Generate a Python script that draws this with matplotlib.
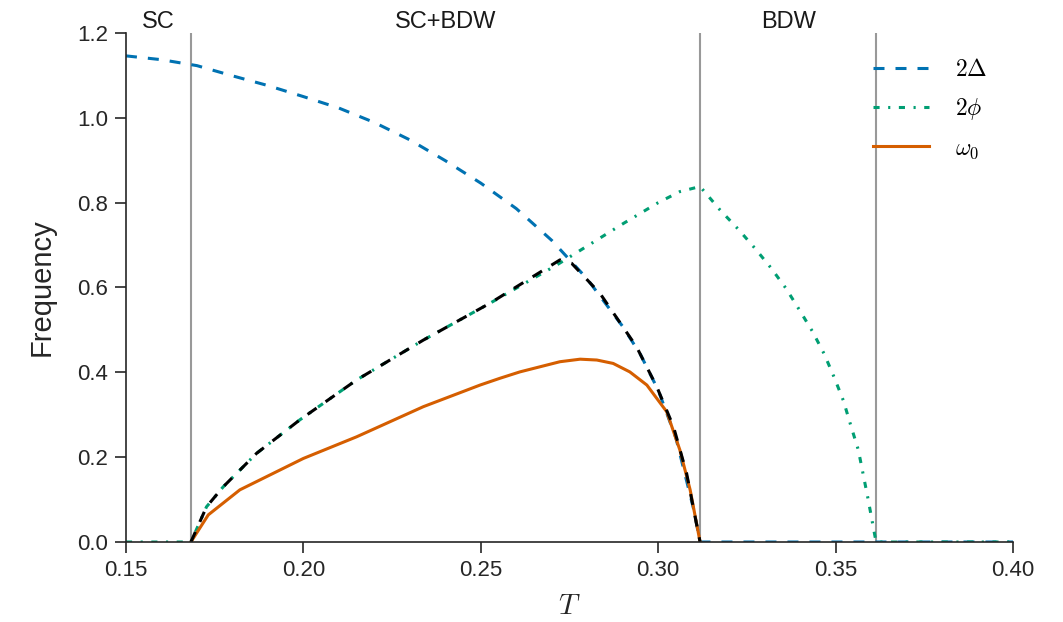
import numpy as np
import matplotlib
matplotlib.use('Agg')
import matplotlib.pyplot as plt

plt.rcParams['font.family'] = ['Liberation Sans', 'DejaVu Sans']
plt.rcParams['mathtext.fontset'] = 'cm'

# phase boundaries
T_sc = 0.1683
T_c1 = 0.3118
T_c2 = 0.3614

# 2*Delta (SC gap)
T_delta = [0.150, 0.160, 0.170, 0.180, 0.190, 0.200, 0.210, 0.220, 0.230, 0.240,
           0.250, 0.260, 0.270, 0.280, 0.290, 0.295, 0.300, 0.305, 0.310, 0.3118,
           0.3118, 0.400]
delta2 = [1.146, 1.137, 1.123, 1.099, 1.076, 1.050, 1.023, 0.989, 0.948, 0.899,
          0.846, 0.786, 0.711, 0.620, 0.508, 0.442, 0.358, 0.245, 0.077, 0.0,
          0.0, 0.0]

# 2*phi (BDW gap)
T_phi = [0.150, 0.1683, 0.1727, 0.1774, 0.1868, 0.1990, 0.2150, 0.2244, 0.2338, 0.2526,
         0.2714, 0.2902, 0.3000, 0.3061, 0.3118, 0.3174, 0.3226, 0.3273, 0.3317, 0.3360,
         0.3398, 0.3435, 0.3468, 0.3496, 0.3522, 0.3543, 0.3564, 0.3578, 0.3592, 0.3605,
         0.3614, 0.400]
phi2 = [0.0, 0.0, 0.083, 0.130, 0.209, 0.288, 0.382, 0.429, 0.476, 0.563,
        0.653, 0.751, 0.800, 0.826, 0.838, 0.783, 0.737, 0.692, 0.647, 0.598,
        0.547, 0.496, 0.443, 0.388, 0.333, 0.274, 0.217, 0.158, 0.099, 0.040,
        0.0, 0.0]

# omega_0
T_w0 = [0.1683, 0.1732, 0.1821, 0.2000, 0.2150, 0.2338, 0.2498, 0.2554, 0.2610, 0.2723,
        0.2780, 0.2827, 0.2873, 0.2920, 0.2968, 0.3024, 0.3061, 0.3090, 0.3118]
w0 = [0.0, 0.064, 0.123, 0.197, 0.248, 0.319, 0.370, 0.386, 0.401, 0.425,
      0.431, 0.429, 0.421, 0.401, 0.370, 0.307, 0.217, 0.123, 0.0]

# lowest mode in the coexistence region
T_min = [0.1683, 0.1727, 0.1774, 0.1868, 0.1990, 0.2150, 0.2244, 0.2338, 0.2526, 0.2723,
         0.2756, 0.2836, 0.2939, 0.2996, 0.3043, 0.3080, 0.3113, 0.3118]
w_min = [0.0, 0.083, 0.130, 0.209, 0.288, 0.382, 0.429, 0.476, 0.563, 0.665,
         0.657, 0.586, 0.460, 0.366, 0.272, 0.162, 0.021, 0.0]

regions = ['SC', 'SC+BDW', 'BDW']

fig = plt.figure(figsize=(10.63, 6.22), dpi=100)
ax = fig.add_axes([0.1185, 0.1286, 0.8345, 0.8184])

for xv in [T_sc, T_c1, T_c2]:
    ax.axvline(xv, color='0.6', lw=1.5, zorder=1)

ax.plot(T_delta, delta2, color='#0072B2', lw=2.2, dashes=(3.6, 3.6), label=r'$2\Delta$')
ax.plot(T_phi, phi2, color='#009E73', lw=2.2, dashes=(2.0, 2.8, 0.7, 2.8), label=r'$2\phi$')
ax.plot(T_w0, w0, color='#D55E00', lw=2.2, label=r'$\omega_0$')
ax.plot(T_min, w_min, color='black', lw=2.2, dashes=(3.6, 3.6))

edges = [0.15, T_sc, T_c1, T_c2]
for i, name in enumerate(regions):
    ax.text((edges[i] + edges[i + 1]) / 2, 1.022, name, transform=ax.get_xaxis_transform(),
            ha='center', va='center', fontsize=17, color='0.1')

ax.set_xlim(0.15, 0.40)
ax.set_ylim(0, 1.2)
ax.set_xticks([0.15, 0.20, 0.25, 0.30, 0.35, 0.40])
ax.set_yticks([0.0, 0.2, 0.4, 0.6, 0.8, 1.0, 1.2])
ax.set_xticklabels(['0.15', '0.20', '0.25', '0.30', '0.35', '0.40'])
ax.tick_params(direction='out', length=8, width=1.2, labelsize=16, colors='0.15', pad=5)
for s in ['top', 'right']:
    ax.spines[s].set_visible(False)
for s in ['left', 'bottom']:
    ax.spines[s].set_color('0.15')
    ax.spines[s].set_linewidth(1.2)

ax.set_xlabel(r'$T$', fontsize=21, color='0.15', labelpad=8)
ax.set_ylabel('Frequency', fontsize=21, color='0.15', labelpad=15)

ax.legend(loc='upper right', frameon=False, fontsize=17, handlelength=2.35,
          handletextpad=1.1, labelspacing=0.65, borderaxespad=0.7)

fig.savefig('out.png', dpi=100)
